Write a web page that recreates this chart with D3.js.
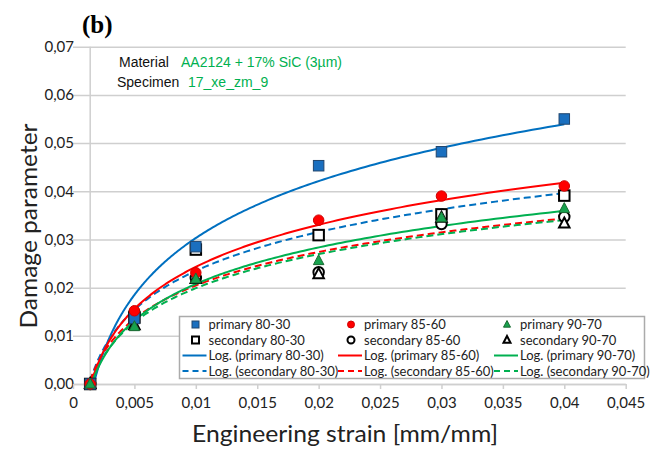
<!DOCTYPE html>
<html>
<head>
<meta charset="utf-8">
<script src="https://cdn.jsdelivr.net/npm/d3@7"></script>
<style>
  html, body { margin: 0; padding: 0; background: #fff; }
  svg { display: block; }
</style>
</head>
<body>
<svg id="chart" width="654" height="450"></svg>
<script>
// Strain levels (mm/mm) and damage parameter per series
const strain = [0.0014, 0.005, 0.01, 0.02, 0.03, 0.04];
const primary8030   = [0, 0.0136, 0.0285, 0.0453, 0.0482, 0.0550];
const primary8560   = [0, 0.0152, 0.0231, 0.0340, 0.0390, 0.0411];
const primary9070   = [0, 0.0119, 0.0218, 0.0256, 0.0345, 0.0364];
const secondary8030 = [0, 0.0138, 0.0279, 0.0309, 0.0352, 0.0391];
const secondary8560 = [0, 0.0148, 0.0220, 0.0232, 0.0332, 0.0347];
const secondary9070 = [0, 0.0122, 0.0218, 0.0228, 0.0345, 0.0333];

const seriesNames = ["primary 80-30", "primary 85-60", "primary 90-70",
                     "secondary 80-30", "secondary 85-60", "secondary 90-70"];
const xTicks = [0, 0.005, 0.01, 0.015, 0.02, 0.025, 0.03, 0.035, 0.04, 0.045];
const yTicks = [0, 0.01, 0.02, 0.03, 0.04, 0.05, 0.06, 0.07];
const materialLabel = "Material";
const materialValue = "AA2124 + 17% SiC (3µm)";
const specimenLabel = "Specimen";
const specimenValue = "17_xe_zm_9";

const BLUE = "#0070C0", RED = "#FF0000", GREEN = "#00B050";
const GRID = "#CFCFCF";
const FONT = "Lato, sans-serif";

const svg = d3.select("#chart");
const locale = d3.formatLocale({ decimal: ",", thousands: ".", grouping: [3], currency: ["", ""] });
const fmtY = locale.format(".2f");
const fmtX = locale.format("~f");

const x = d3.scaleLinear().domain([0, 0.045]).range([73, 625.7]);
const y = d3.scaleLinear().domain([0, 0.07]).range([384, 46.7]);

// Logarithmic least-squares trend: y = a ln(x) + b
function logFit(xs, ys) {
  const lx = xs.map(Math.log);
  const mx = d3.mean(lx), my = d3.mean(ys);
  let sxy = 0, sxx = 0;
  lx.forEach((v, i) => { sxy += (v - mx) * (ys[i] - my); sxx += (v - mx) * (v - mx); });
  const a = sxy / sxx, b = my - a * mx;
  return v => a * Math.log(v) + b;
}

const series = [
  { name: seriesNames[0], values: primary8030,   color: BLUE,  shape: "square",   hollow: false, fill: "#1A6FBF", stroke: "#21466E" },
  { name: seriesNames[1], values: primary8560,   color: RED,   shape: "circle",   hollow: false, fill: "#FF0000", stroke: "#D00000" },
  { name: seriesNames[2], values: primary9070,   color: GREEN, shape: "triangle", hollow: false, fill: "#17A24E", stroke: "#1A6A32" },
  { name: seriesNames[3], values: secondary8030, color: BLUE,  shape: "square",   hollow: true },
  { name: seriesNames[4], values: secondary8560, color: RED,   shape: "circle",   hollow: true },
  { name: seriesNames[5], values: secondary9070, color: GREEN, shape: "triangle", hollow: true }
];

// Horizontal gridlines and y tick labels
const yAxis = d3.axisLeft(y).tickValues(yTicks).tickFormat(fmtY)
  .tickSize(-(x(0.045) - x(0))).tickPadding(-1);
const gy = svg.append("g").attr("transform", `translate(${x(0)},0)`).call(yAxis);
gy.select(".domain").remove();
gy.selectAll(".tick line").attr("stroke", GRID).attr("stroke-width", 1.5);
gy.selectAll(".tick text").attr("fill", "#222").style("font-family", FONT).style("font-size", "15px");

// Bottom axis
const xAxis = d3.axisBottom(x).tickValues(xTicks).tickFormat(fmtX)
  .tickSize(5).tickSizeOuter(0).tickPadding(8);
const gx = svg.append("g").attr("transform", `translate(0,${y(0)})`).call(xAxis);
gx.select(".domain").attr("stroke", GRID).attr("stroke-width", 1.5);
gx.selectAll(".tick line").attr("stroke", GRID).attr("stroke-width", 1.5);
gx.selectAll(".tick text").attr("fill", "#222").style("font-family", FONT).style("font-size", "15px");

// Value axis line crossing at the first strain level
svg.append("line")
  .attr("x1", x(strain[0])).attr("x2", x(strain[0]))
  .attr("y1", y(0)).attr("y2", y(0.07))
  .attr("stroke", GRID).attr("stroke-width", 1.5);

// Trend lines, clipped to the plot area
svg.append("clipPath").attr("id", "plotClip").append("rect")
  .attr("x", x(0)).attr("y", y(0.07))
  .attr("width", x(0.045) - x(0)).attr("height", y(0) - y(0.07));

const trendG = svg.append("g").attr("clip-path", "url(#plotClip)");
const lineGen = d3.line().x(d => x(d[0])).y(d => y(d[1]));
const samples = d3.range(0, 201).map(i => strain[0] * Math.pow(strain[strain.length - 1] / strain[0], i / 200));

// secondary (dashed) first, primary (solid) above
[3, 4, 5, 0, 1, 2].forEach(i => {
  const s = series[i];
  const f = logFit(strain, s.values);
  trendG.append("path")
    .attr("d", lineGen(samples.map(v => [v, f(v)])))
    .attr("fill", "none")
    .attr("stroke", s.color)
    .attr("stroke-width", 2)
    .attr("stroke-dasharray", s.hollow ? "7,4" : null);
});

// Marker drawing
function drawMarker(g, s, cx, cy, size) {
  const fill = s.hollow ? "#fff" : s.fill;
  const stroke = s.hollow ? "#000" : s.stroke;
  const sw = s.hollow ? 2 : 1;
  if (s.shape === "square") {
    g.append("rect").attr("x", cx - size / 2).attr("y", cy - size / 2)
      .attr("width", size).attr("height", size)
      .attr("fill", fill).attr("stroke", stroke).attr("stroke-width", sw);
  } else if (s.shape === "circle") {
    g.append("circle").attr("cx", cx).attr("cy", cy).attr("r", size / 2)
      .attr("fill", fill).attr("stroke", stroke).attr("stroke-width", sw);
  } else {
    const h = size * 0.95;
    g.append("path")
      .attr("d", `M${cx},${cy - h * 0.6}L${cx + size / 2},${cy + h * 0.4}L${cx - size / 2},${cy + h * 0.4}Z`)
      .attr("fill", fill).attr("stroke", stroke).attr("stroke-width", sw)
      .attr("stroke-linejoin", "miter");
  }
}

const markG = svg.append("g");
[3, 4, 5, 0, 1, 2].forEach(i => {
  const s = series[i];
  s.values.forEach((v, j) => drawMarker(markG, s, x(strain[j]), y(v), 10.5));
});

// Legend
const lg = svg.append("g").attr("transform", "translate(179.5,316.5)");
lg.append("rect").attr("width", 465).attr("height", 62)
  .attr("fill", "#fff").attr("stroke", "#ABABAB").attr("stroke-width", 1.5);
const colX = [0, 155.5, 311.5];
const rowY = [8, 23.5, 39, 54.5];
const legendFont = s => s.style("font-family", FONT).style("font-size", "13px").attr("fill", "#222");
series.forEach((s, i) => {
  const c = i % 3, r = Math.floor(i / 3);
  drawMarker(lg, s, colX[c] + 16, rowY[r], 7);
  lg.append("text").attr("x", colX[c] + 29).attr("y", rowY[r]).attr("dy", "0.35em")
    .text(s.name).call(legendFont);
});
series.forEach((s, i) => {
  const c = i % 3, r = 2 + Math.floor(i / 3);
  lg.append("line").attr("x1", colX[c] + 3).attr("x2", colX[c] + 27)
    .attr("y1", rowY[r]).attr("y2", rowY[r])
    .attr("stroke", s.color).attr("stroke-width", 2)
    .attr("stroke-dasharray", s.hollow ? "6,4" : null);
  lg.append("text").attr("x", colX[c] + 29).attr("y", rowY[r]).attr("dy", "0.35em")
    .text(`Log. (${s.name})`).call(legendFont);
});

// Axis titles
svg.append("text")
  .attr("x", 345).attr("y", 442).attr("text-anchor", "middle")
  .attr("textLength", 306).attr("lengthAdjust", "spacingAndGlyphs")
  .style("font-family", FONT).style("font-size", "24px").attr("fill", "#222")
  .text("Engineering strain [mm/mm]");
svg.append("text")
  .attr("transform", "translate(37,226) rotate(-90)").attr("text-anchor", "middle")
  .attr("textLength", 205).attr("lengthAdjust", "spacingAndGlyphs")
  .style("font-family", FONT).style("font-size", "24px").attr("fill", "#222")
  .text("Damage parameter");

// Panel tag and specimen annotation
svg.append("text").attr("x", 82).attr("y", 33)
  .style("font-family", "'Liberation Serif', serif").style("font-size", "25px").style("font-weight", "bold")
  .text("(b)");
const ann = svg.append("g").style("font-family", "'Liberation Sans', Arial, sans-serif").style("font-size", "14px");
ann.append("text").attr("x", 119).attr("y", 67).attr("fill", "#111").text(materialLabel);
ann.append("text").attr("x", 181).attr("y", 67).attr("fill", GREEN).text(materialValue);
ann.append("text").attr("x", 117).attr("y", 87).attr("fill", "#111").text(specimenLabel);
ann.append("text").attr("x", 188).attr("y", 87).attr("fill", GREEN).text(specimenValue);
</script>
</body>
</html>
